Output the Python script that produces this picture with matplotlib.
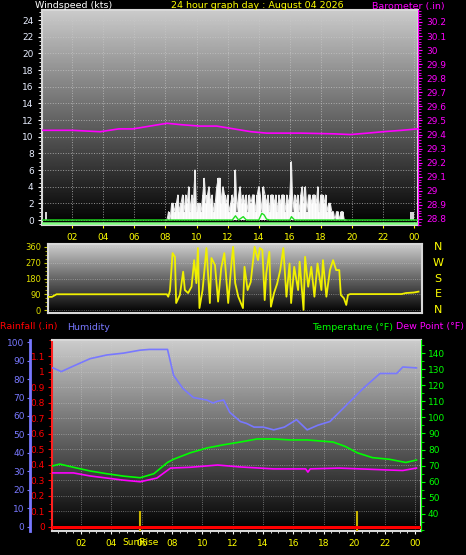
import numpy as np
import matplotlib
matplotlib.use("Agg")
import matplotlib.pyplot as plt
from matplotlib.transforms import blended_transform_factory
from matplotlib.ticker import MultipleLocator

# ---- data ----
hour_ticks = [2, 4, 6, 8, 10, 12, 14, 16, 18, 20, 22, 24]
hour_labels = ["02", "04", "06", "08", "10", "12", "14", "16", "18", "20", "22", "00"]

# wind gust (kts), 0.1 h steps from 8.0 to 19.6
gust_start = 8.0
gust = [0, 0, 1, 0, 2, 2, 1, 2, 3, 1, 2, 3, 1, 3, 2, 4, 1, 3, 2, 6,
        1, 2, 2, 1, 3, 5, 2, 3, 4, 2, 3, 1, 2, 4, 5, 5, 2, 4, 3, 2,
        3, 1, 2, 3, 2, 6, 1, 3, 4, 2, 3, 2, 3, 1, 3, 2, 3, 3, 1, 3,
        4, 3, 1, 4, 3, 2, 3, 1, 3, 3, 2, 3, 1, 3, 2, 3, 3, 1, 3, 2,
        3, 7, 1, 3, 2, 3, 1, 3, 4, 2, 4, 1, 3, 3, 2, 3, 3, 2, 4, 1,
        3, 3, 2, 3, 1, 2, 2, 1, 1, 0, 1, 1, 0, 1, 1, 0, 0]
gust_extra_hours = [0.3, 23.8, 23.95]
gust_extra = [1, 1, 1]

avg_hours = [0, 8, 12.3, 12.5, 12.7, 13.0, 13.2, 14.0, 14.2, 14.35, 14.5, 14.7, 16.0, 16.1, 16.3, 19.0, 24.2]
avg_speed = [0, 0, 0, 0.5, 0, 0.4, 0, 0, 0.8, 0.6, 0.1, 0, 0, 0.4, 0, 0, 0]

baro_hours = [0.06, 2.0, 3.8, 5.0, 5.9, 7.0, 8.1, 9.0, 10.2, 11.3, 12.4, 13.5, 14.5, 16.7, 18.8, 19.9, 21.0, 22.0, 23.2, 24.2]
baro = [29.43, 29.43, 29.42, 29.44, 29.44, 29.46, 29.48, 29.47, 29.46, 29.46, 29.44, 29.42, 29.41, 29.41, 29.405, 29.40, 29.41, 29.42, 29.43, 29.44]

dir_hours = [0.45, 0.7, 1.0, 8.1, 8.19, 8.3, 8.47, 8.62, 8.7, 8.94, 9.15, 9.26, 9.47, 9.69, 9.86,
             10.0, 10.1, 10.2, 10.4, 10.65, 10.87, 10.97, 11.2, 11.4, 11.6, 11.8, 12.05,
             12.26, 12.37, 12.5, 12.7, 13.0, 13.1, 13.3, 13.5, 13.75, 13.97, 14.08, 14.25,
             14.4, 14.5, 14.7, 14.8, 15.0, 15.2, 15.4, 15.6, 15.8, 16.0, 16.1, 16.3, 16.55,
             16.65, 16.9, 17.0, 17.2, 17.4, 17.6, 17.8, 18.05, 18.15, 18.37, 18.6, 18.8,
             19.0, 19.2, 19.3, 19.5, 19.65, 19.76, 19.9, 23.2, 23.5, 24.0, 24.3]
direction = [75, 75, 90, 90, 76, 110, 325, 304, 40, 86, 219, 114, 97, 133, 285,
             154, 354, 11, 114, 354, 40, 297, 257, 48, 240, 325, 40,
             268, 361, 154, 76, 11, 247, 114, 160, 361, 285, 354, 343,
             57, 209, 333, 19, 97, 150, 228, 354, 76, 266, 40, 247, 114,
             276, 1, 304, 133, 247, 76, 266, 114, 285, 76, 228, 285,
             228, 228, 86, 67, 29, 86, 91, 91, 97, 100, 105]

th_hours = [0.1, 0.16, 0.7, 1.5, 2.6, 3.7, 4.8, 5.9, 6.5, 7.2, 7.7, 8.1, 8.7, 9.4, 10.3, 10.7,
            11.0, 11.4, 11.8, 12.5, 12.9, 13.4, 14.0, 14.7, 15.4, 16.2, 16.9, 17.6, 18.4,
            19.5, 20.6, 21.7, 22.8, 23.2, 24.1]
humidity = [86, 86, 84, 87, 91, 93, 94, 95.6, 96, 96, 96, 82, 75, 70, 68.6, 67,
            68, 68.6, 62, 57, 56, 54, 54, 52.5, 54, 58, 52.5, 55, 57,
            66, 75, 83, 83, 86.5, 86]
temp_hours = [0.1, 0.6, 1.5, 2.6, 3.7, 4.8, 5.9, 6.8, 7.7, 8.1, 9.2, 10.3, 11.4, 12.5, 13.6,
              14.7, 15.8, 16.9, 18.6, 19.4, 20.2, 21.2, 22.3, 23.4, 24.1]
temperature = [69.8, 71, 69, 66.7, 65, 63.5, 62.5, 65, 72, 74, 78, 81, 83, 84.7, 86.6,
               86.6, 86, 86, 84.7, 82, 78, 75, 74, 72, 73.5]
dew_hours = [0.1, 1.5, 2.6, 3.7, 4.8, 5.9, 7.0, 7.9, 9.2, 11.0, 12.5, 14.7, 16.8, 16.95, 17.1,
             19.0, 22.3, 23.2, 24.1]
dewpoint = [65.5, 65.5, 63.6, 62.3, 61, 60, 62.3, 68.5, 69, 70.4, 69.2, 68, 68, 66, 68,
            68.5, 67.3, 67, 68.5]
rain_hours = [0.09, 24.4]
rain = [0, 0]
sun_hours = [5.9, 20.2]

# ---- styling ----
YEL = "#ffff00"
MAG = "#ff00ff"
GRN = "#00ff00"
HUM = "#7878ff"
HEAD = 6.8
plt.rcParams["font.family"] = "DejaVu Sans"

W, H = 466, 555
fig = plt.figure(figsize=(W / 100, H / 100), dpi=100, facecolor="black")


def px_axes(x0, x1, y0, y1):
    return fig.add_axes([x0 / W, 1 - y1 / H, (x1 - x0) / W, (y1 - y0) / H])


def gradient(ax, top=0.80):
    g = np.linspace(0.0, top, 256).reshape(-1, 1)
    ax.imshow(g, cmap="gray", vmin=0, vmax=1, aspect="auto", origin="lower",
              extent=[0, 1, 0, 1], transform=ax.transAxes, zorder=0)


def frame(ax):
    for s in ax.spines.values():
        s.set_color("#d8d8d8")
        s.set_linewidth(1.5)
    ax.set_facecolor("black")


# ---- top panel: wind + barometer ----
ax1 = px_axes(42, 418, 10, 225)
gradient(ax1)
frame(ax1)
ax1.set_xlim(0.06, 24.24)
ax1.set_ylim(-0.6, 25.2)
gh = gust_start + 0.1 * np.arange(len(gust))
ax1.vlines(gh, 0, gust, color="white", lw=1.4, zorder=3)
ax1.plot(gh, gust, color="#e6e6e6", lw=0.8, zorder=3)
ax1.vlines(gust_extra_hours, 0, gust_extra, color="white", lw=1.2, zorder=3)
ax1.plot([0.06, 24.24], [-0.35, -0.35], color="#80ff80", lw=1.8, zorder=4)
ax1.plot(avg_hours, avg_speed, color="#20e020", lw=1.0, zorder=4)
ax1.set_xticks(hour_ticks)
ax1.set_xticklabels(hour_labels)
ax1.set_yticks(range(0, 25, 2))
ax1.yaxis.set_minor_locator(MultipleLocator(0.5))
ax1.tick_params(axis="x", colors=YEL, labelsize=6.5, length=2, pad=4)
ax1.tick_params(axis="y", colors="white", labelcolor="#e8eeff", labelsize=6.5, length=3, pad=3)
ax1.tick_params(axis="y", which="minor", colors="white", length=2)
ax1.grid(True, color="#c8c8c8", ls=":", lw=0.7, alpha=0.7, zorder=1)

axb = ax1.twinx()
axb.set_ylim(28.757, 30.285)
axb.plot(baro_hours, baro, color=MAG, lw=1.2)
axb.set_yticks(np.round(np.arange(28.8, 30.25, 0.1), 1))
axb.set_yticklabels([f"{v:g}" for v in np.round(np.arange(28.8, 30.25, 0.1), 1)])
axb.yaxis.set_minor_locator(MultipleLocator(0.02))
axb.tick_params(axis="y", colors=MAG, labelsize=6.5, length=3, pad=3)
axb.tick_params(axis="y", which="minor", colors=MAG, length=2)
for s in axb.spines.values():
    s.set_visible(False)
axb.spines["right"].set_visible(True)
axb.spines["right"].set_color(MAG)

fig.text(35 / W, 1 - 6 / H, "Windspeed (kts)", color="white", fontsize=HEAD, va="center")
fig.text(257 / W, 1 - 6 / H, "24 hour graph day : August 04 2026", color=YEL,
         fontsize=HEAD, va="center", ha="center")
fig.text(372 / W, 1 - 6 / H, "Barometer (.in)", color=MAG, fontsize=HEAD, va="center")

# ---- middle panel: wind direction ----
ax2 = px_axes(48, 421.6, 244, 313)
gradient(ax2)
frame(ax2)
ax2.set_xlim(0.45, 24.5)
ax2.set_ylim(-17, 377)
ax2.plot(dir_hours, direction, color="#f0f000", lw=1.3, zorder=3)
ax2.set_xticks([])
ax2.set_yticks([0, 90, 180, 270, 360])
ax2.yaxis.set_minor_locator(MultipleLocator(22.5))
ax2.tick_params(axis="y", colors="#c8c800", labelcolor="#e0e000", labelsize=6, length=3, pad=2)
ax2.tick_params(axis="y", which="minor", colors="#c8c800", length=2)
ax2.grid(True, axis="y", color="#d0d0d0", ls=":", lw=0.6, alpha=0.6, zorder=1)
tr = blended_transform_factory(ax2.transAxes, ax2.transData)
for lab, d in zip(["N", "W", "S", "E", "N"], [360, 270, 180, 90, 0]):
    ax2.text(1.044, d, lab, transform=tr, color=YEL, fontsize=8, ha="center", va="center")

# ---- bottom panel: rain, humidity, temperature, dew point ----
ax3 = px_axes(52, 421, 340, 531)
gradient(ax3)
frame(ax3)
ax3.set_xlim(0.09, 24.4)
ax3.set_ylim(-0.026, 1.203)
ax3.plot(rain_hours, rain, color="#ff0000", lw=2.2, zorder=5)
ax3.vlines(sun_hours, -0.026, 0.1, color="#c8b400", lw=1.5, zorder=4)
ax3.set_xticks(hour_ticks)
ax3.set_xticklabels(hour_labels)
ax3.xaxis.set_minor_locator(MultipleLocator(0.5))
ax3.tick_params(axis="x", colors="white", labelcolor=YEL, labelsize=6.5, length=2, pad=4)
ax3.tick_params(axis="x", which="minor", colors="white", length=1.5)
ax3.set_yticks(np.round(np.arange(0, 1.15, 0.1), 1))
ax3.set_yticklabels([f"{v:g}" for v in np.round(np.arange(0, 1.15, 0.1), 1)])
ax3.yaxis.set_minor_locator(MultipleLocator(0.05))
ax3.tick_params(axis="y", colors="#ff0000", labelsize=6.5, length=3, pad=2)
ax3.tick_params(axis="y", which="minor", colors="#ff0000", length=2)
ax3.spines["left"].set_color("#ff2020")
ax3.spines["left"].set_linestyle((0, (2, 1)))
ax3.grid(True, color="#d0d0d0", ls=":", lw=0.6, alpha=0.6, zorder=1)
ax3.text(5.9, -0.1, "SunRise", color=YEL, fontsize=6.5, ha="center", va="center",
         transform=blended_transform_factory(ax3.transData, ax3.transData))

axh = ax3.twinx()
axh.set_ylim(-2.2, 101.1)
axh.plot(th_hours, humidity, color=HUM, lw=1.2)
axh.yaxis.set_ticks_position("left")
axh.yaxis.set_label_position("left")
for s in axh.spines.values():
    s.set_visible(False)
axh.spines["left"].set_visible(True)
axh.spines["left"].set_position(("outward", 15.8))
axh.spines["left"].set_color(HUM)
axh.spines["left"].set_linewidth(2)
axh.set_yticks(range(0, 101, 10))
axh.tick_params(axis="y", colors=HUM, labelsize=6.5, length=2, pad=2)

axt = ax3.twinx()
axt.set_ylim(29.4, 148.1)
axt.plot(temp_hours, temperature, color=GRN, lw=1.2, zorder=3)
axt.plot(dew_hours, dewpoint, color=MAG, lw=1.2, zorder=3)
for s in axt.spines.values():
    s.set_visible(False)
axt.spines["right"].set_visible(True)
axt.spines["right"].set_color(GRN)
axt.spines["right"].set_linestyle((0, (2, 1)))
axt.set_yticks(range(40, 141, 10))
axt.yaxis.set_minor_locator(MultipleLocator(5))
axt.tick_params(axis="y", colors=GRN, labelsize=6.5, length=3, pad=2)
axt.tick_params(axis="y", which="minor", colors=GRN, length=2)

ly = 1 - 327 / H
fig.text(0 / W, ly, "Rainfall (.in)", color="#ff0000", fontsize=HEAD, va="center")
fig.text(67 / W, ly, "Humidity", color=HUM, fontsize=HEAD, va="center")
fig.text(312 / W, ly, "Temperature (°F)", color=GRN, fontsize=HEAD, va="center")
fig.text(464 / W, ly, "Dew Point (°F)", color=MAG, fontsize=HEAD, va="center", ha="right")

fig.savefig("out.png", dpi=100, facecolor="black")
